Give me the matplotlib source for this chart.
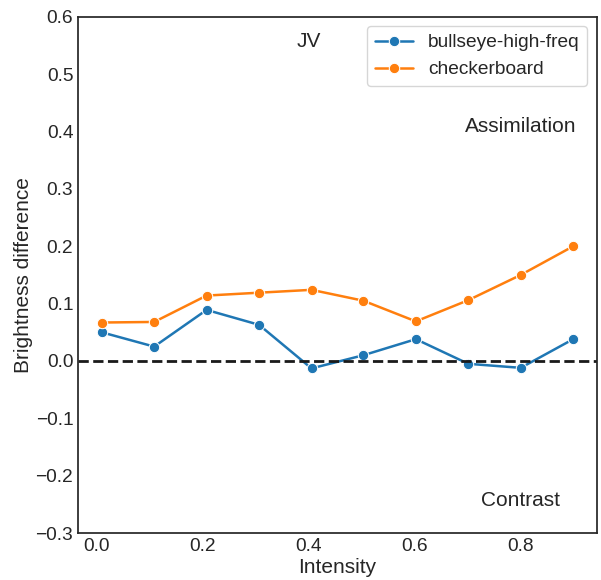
import numpy as np
import pandas as pd
import matplotlib
matplotlib.use("Agg")
import matplotlib.pyplot as plt
import seaborn as sns

# values
intensity = [0.01, 0.109, 0.208, 0.307, 0.406, 0.504, 0.603, 0.702, 0.801, 0.9]
bullseye = [0.050, 0.025, 0.089, 0.063, -0.013, 0.010, 0.038, -0.005, -0.012, 0.038]
checker = [0.067, 0.068, 0.114, 0.119, 0.124, 0.105, 0.069, 0.106, 0.150, 0.200]
series_names = ["bullseye-high-freq", "checkerboard"]

df = pd.DataFrame({
    "Intensity": intensity * 2,
    "Brightness difference": bullseye + checker,
    "stim": [series_names[0]] * len(intensity) + [series_names[1]] * len(intensity),
})

sns.set_theme(style="white", context="notebook", font_scale=1.25)
plt.rcParams["font.family"] = ["Liberation Sans", "DejaVu Sans"]

fig, ax = plt.subplots(figsize=(6.01, 5.8), dpi=100)
fig.subplots_adjust(left=0.13, right=0.993, bottom=0.081, top=0.971)

sns.lineplot(data=df, x="Intensity", y="Brightness difference", hue="stim",
             marker="o", markersize=7.5, linewidth=1.8, palette=["#1f77b4", "#ff7f0e"], ax=ax)
ax.axhline(0, color="k", linestyle="--", linewidth=2)

ax.set_ylim(-0.3, 0.6)
ax.tick_params(length=0, pad=3.5)
ax.xaxis.labelpad = 2
ax.yaxis.labelpad = 2
ax.text(0.40, 0.557, "JV", ha="center", va="center")
ax.text(0.80, 0.408, "Assimilation", ha="center", va="center")
ax.text(0.80, -0.243, "Contrast", ha="center", va="center")

ax.legend(loc="upper right")

plt.savefig("out.png")
